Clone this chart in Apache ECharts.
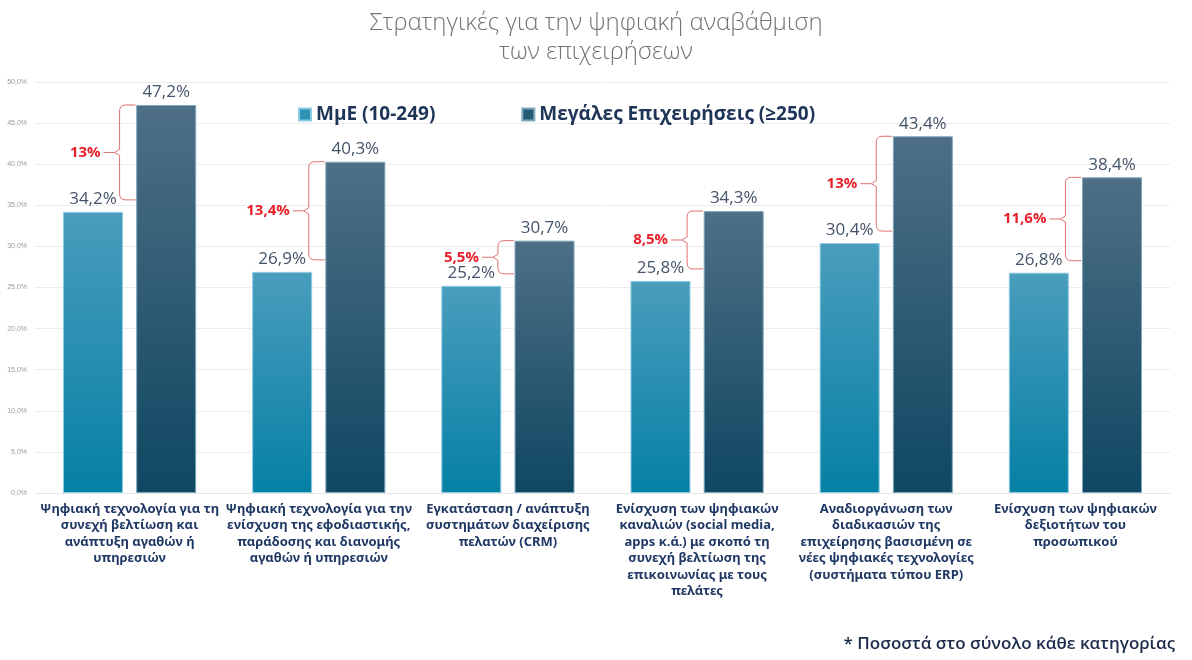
<!DOCTYPE html>
<html>
<head>
<meta charset="utf-8">
<style>
  html, body { margin: 0; padding: 0; background: #fff; }
  #chart { width: 1192px; height: 660px; }
</style>
<script src="https://cdn.jsdelivr.net/npm/echarts@6/dist/echarts.min.js"></script>
</head>
<body>
<div id="chart"></div>
<script>
const categories = [
  'Ψηφιακή τεχνολογία για τη\nσυνεχή βελτίωση και\nανάπτυξη αγαθών ή\nυπηρεσιών',
  'Ψηφιακή τεχνολογία για την\nενίσχυση της εφοδιαστικής,\nπαράδοσης και διανομής\nαγαθών ή υπηρεσιών',
  'Εγκατάσταση / ανάπτυξη\nσυστημάτων διαχείρισης\nπελατών (CRM)',
  'Ενίσχυση των ψηφιακών\nκαναλιών (social media,\napps κ.ά.) με σκοπό τη\nσυνεχή βελτίωση της\nεπικοινωνίας με τους\nπελάτες',
  'Αναδιοργάνωση των\nδιαδικασιών της\nεπιχείρησης βασισμένη σε\nνέες ψηφιακές τεχνολογίες\n(συστήματα τύπου ERP)',
  'Ενίσχυση των ψηφιακών\nδεξιοτήτων του\nπροσωπικού'
]
const smeValues = [34.2, 26.9, 25.2, 25.8, 30.4, 26.8]
const largeValues = [47.2, 40.3, 30.7, 34.3, 43.4, 38.4]
const gapLabels = ['13%', '13,4%', '5,5%', '8,5%', '13%', '11,6%']
const seriesNames = ['ΜμΕ (10-249)', 'Μεγάλες Επιχειρήσεις (≥250)']

const fmt = (v) => v.toFixed(1).replace('.', ',') + '%'

const chart = echarts.init(document.getElementById('chart'))

const bracketData = categories.map((c, i) => [i, smeValues[i], largeValues[i], gapLabels[i]])

// curly bracket between the two bars of each category, with the gap label on its left
const renderBracket = (params, api) => {
  const idx = api.value(0)
  const top = api.coord([idx, api.value(2)])
  const low = api.coord([idx, api.value(1)])
  const cx = top[0]
  const yTop = top[1]
  const yBot = Math.max(low[1] - 12, yTop + 24)
  const yMid = (yTop + yBot) / 2
  const right = cx + 6
  const vx = cx - 10
  const tip = cx - 15
  const lineEnd = cx - 26
  const r = 6
  const stroke = { stroke: '#e07070', lineWidth: 1, fill: null }
  return {
    type: 'group',
    children: [
      {
        type: 'path',
        shape: {
          pathData:
            'M' + right + ' ' + yTop +
            ' L' + (vx + r) + ' ' + yTop +
            ' Q' + vx + ' ' + yTop + ' ' + vx + ' ' + (yTop + r) +
            ' L' + vx + ' ' + (yMid - 3) +
            ' L' + tip + ' ' + yMid +
            ' L' + vx + ' ' + (yMid + 3) +
            ' L' + vx + ' ' + (yBot - r) +
            ' Q' + vx + ' ' + yBot + ' ' + (vx + r) + ' ' + yBot +
            ' L' + right + ' ' + yBot
        },
        style: stroke
      },
      {
        type: 'line',
        shape: { x1: tip, y1: yMid, x2: lineEnd, y2: yMid },
        style: stroke
      },
      {
        type: 'text',
        x: lineEnd - 3,
        y: yMid,
        style: {
          text: api.value(3),
          align: 'right',
          verticalAlign: 'middle',
          fill: '#e8202a',
          font: 'bold 15px "Open Sans", sans-serif'
        }
      }
    ]
  }
}

const valueLabel = {
  show: true,
  position: 'top',
  distance: 4,
  formatter: (p) => fmt(p.value),
  fontFamily: 'Open Sans',
  fontSize: 17,
  color: '#44546a'
}

const option = {
  title: {
    text: 'Στρατηγικές για την ψηφιακή αναβάθμιση\nτων επιχειρήσεων',
    left: 'center',
    top: 4,
    textStyle: {
      fontFamily: 'Open Sans',
      fontSize: 24,
      fontWeight: 300,
      color: '#747474',
      lineHeight: 29
    }
  },
  legend: {
    left: 293,
    top: 100,
    itemWidth: 12,
    itemHeight: 12,
    itemGap: 86,
    icon: 'rect',
    textStyle: {
      fontFamily: 'Open Sans',
      fontSize: 19,
      fontWeight: 'bold',
      color: '#1f3557'
    },
    data: [
      { name: seriesNames[0], itemStyle: { color: '#2d93b6' } },
      { name: seriesNames[1], itemStyle: { color: '#235c74' } }
    ]
  },
  grid: { left: 35, right: 22, top: 82, bottom: 167 },
  xAxis: {
    type: 'category',
    data: categories,
    axisLine: { lineStyle: { color: '#e6e6e6' } },
    axisTick: { show: false },
    axisLabel: {
      interval: 0,
      margin: 8,
      fontFamily: 'Noto Sans',
      fontSize: 13,
      fontWeight: 'bold',
      lineHeight: 16.5,
      color: '#1f3864'
    }
  },
  yAxis: {
    type: 'value',
    min: 0,
    max: 50,
    interval: 5,
    axisLine: { show: false },
    axisTick: { show: false },
    splitLine: { lineStyle: { color: '#ececec' } },
    axisLabel: {
      formatter: fmt,
      fontSize: 7,
      color: '#9a9a9a',
      margin: 8
    }
  },
  series: [
    {
      name: seriesNames[0],
      type: 'bar',
      data: smeValues,
      barWidth: 60,
      barGap: '22%',
      itemStyle: {
        color: new echarts.graphic.LinearGradient(0, 0, 0, 1, [
          { offset: 0, color: '#4a9dbd' },
          { offset: 1, color: '#0580a5' }
        ]),
        borderColor: '#8ccbe2',
        borderWidth: 1
      },
      label: valueLabel
    },
    {
      name: seriesNames[1],
      type: 'bar',
      data: largeValues,
      barWidth: 60,
      itemStyle: {
        color: new echarts.graphic.LinearGradient(0, 0, 0, 1, [
          { offset: 0, color: '#4e6f85' },
          { offset: 1, color: '#0f4762' }
        ]),
        borderColor: '#7fa9bd',
        borderWidth: 1
      },
      label: valueLabel
    },
    {
      type: 'custom',
      data: bracketData,
      renderItem: renderBracket,
      silent: true,
      z: 5
    }
  ],
  graphic: [
    {
      type: 'text',
      right: 17,
      bottom: 7,
      style: {
        text: '* Ποσοστά στο σύνολο κάθε κατηγορίας',
        font: '600 17px "Open Sans", sans-serif',
        fill: '#1d2b4a'
      }
    }
  ]
}

chart.setOption(option)
window.addEventListener('resize', () => chart.resize())
</script>
</body>
</html>
